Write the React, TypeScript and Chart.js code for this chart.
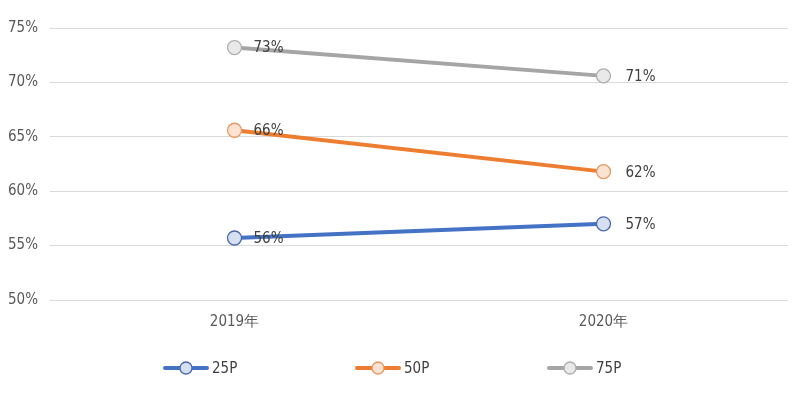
import React, { useEffect, useRef } from "react";
import { Chart, registerables } from "chart.js";

Chart.register(...registerables);

const categories = ["2019年", "2020年"];
const seriesNames = ["25P", "50P", "75P"];
const p25 = [55.7, 57.0];
const p50 = [65.6, 61.8];
const p75 = [73.2, 70.6];
const labels25 = ["56%", "57%"];
const labels50 = ["66%", "62%"];
const labels75 = ["73%", "71%"];
const yTicks = [50, 55, 60, 65, 70, 75];

const lineColors = ["#4472C4", "#ED7D31", "#A5A5A5"];
const pointFills = ["#D6E0F2", "#FBE2D1", "#E9E9E9"];
const pointBorders = ["#4A6AA8", "#E59A66", "#AFAFAF"];
const FONT = "'DejaVu Sans Condensed', 'Liberation Sans', sans-serif";

export default function App() {
  const ref = useRef<HTMLCanvasElement | null>(null);
  useEffect(() => {
    if (!ref.current) return;
    const allLabels = [labels25, labels50, labels75];
    const dataLabelPlugin = {
      id: "dataLabels",
      afterDatasetsDraw(chart: any) {
        const ctx = chart.ctx;
        ctx.save();
        ctx.font = `15px ${FONT}`;
        ctx.fillStyle = "#404040";
        ctx.textBaseline = "middle";
        ctx.textAlign = "left";
        chart.data.datasets.forEach((ds: any, i: number) => {
          const meta = chart.getDatasetMeta(i);
          meta.data.forEach((pt: any, j: number) => {
            const off = j === 0 ? 19 : 22;
            ctx.fillText(allLabels[i][j], pt.x + off, pt.y + 1);
          });
        });
        ctx.restore();
      },
    };
    const legendPlugin = {
      id: "customLegend",
      afterDraw(chart: any) {
        const ctx = chart.ctx;
        ctx.save();
        const starts = [165, 357, 549];
        const y = 368;
        seriesNames.forEach((name, i) => {
          const x0 = starts[i];
          ctx.strokeStyle = lineColors[i];
          ctx.lineWidth = 4;
          ctx.lineCap = "round";
          ctx.beginPath();
          ctx.moveTo(x0, y);
          ctx.lineTo(x0 + 42, y);
          ctx.stroke();
          ctx.beginPath();
          ctx.arc(x0 + 21, y, 6, 0, Math.PI * 2);
          ctx.fillStyle = pointFills[i];
          ctx.fill();
          ctx.lineWidth = 1.3;
          ctx.strokeStyle = pointBorders[i];
          ctx.stroke();
          ctx.font = `15px ${FONT}`;
          ctx.fillStyle = "#404040";
          ctx.textBaseline = "middle";
          ctx.textAlign = "left";
          ctx.fillText(name, x0 + 47, y + 1);
        });
        ctx.restore();
      },
    };
    const data = [p25, p50, p75];
    const chart = new Chart(ref.current, {
      type: "line",
      data: {
        labels: categories,
        datasets: seriesNames.map((n, i) => ({
          label: n,
          data: data[i],
          borderColor: lineColors[i],
          borderWidth: 4,
          pointRadius: 7,
          pointBorderWidth: 1.3,
          pointBackgroundColor: pointFills[i],
          pointBorderColor: pointBorders[i],
          tension: 0,
        })),
      },
      options: {
        animation: false,
        responsive: false,
        layout: { padding: { top: 28, right: 24, left: 0, bottom: 0 } },
        plugins: { legend: { display: false }, tooltip: { enabled: false } },
        scales: {
          x: {
            offset: true,
            grid: { display: false, drawTicks: false },
            border: { display: false },
            ticks: { color: "#595959", font: { family: FONT, size: 15 }, padding: 13 },
            afterFit(scale: any) {
              scale.height = 110;
            },
          },
          y: {
            min: 50,
            max: 75,
            afterBuildTicks(scale: any) {
              scale.ticks = yTicks.map((v) => ({ value: v }));
            },
            grid: { color: "#D9D9D9", lineWidth: 1, drawTicks: false },
            border: { display: false },
            ticks: {
              color: "#595959",
              font: { family: FONT, size: 15 },
              padding: 12,
              callback: (v: any) => v + "%",
            },
            afterFit(scale: any) {
              scale.width = 50;
            },
          },
        },
      },
      plugins: [dataLabelPlugin, legendPlugin],
    });
    return () => chart.destroy();
  }, []);
  return (
    <div style={{ position: "absolute", left: 0, top: 0, width: 812, height: 410, background: "#fff" }}>
      <canvas ref={ref} width={812} height={410} />
    </div>
  );
}
